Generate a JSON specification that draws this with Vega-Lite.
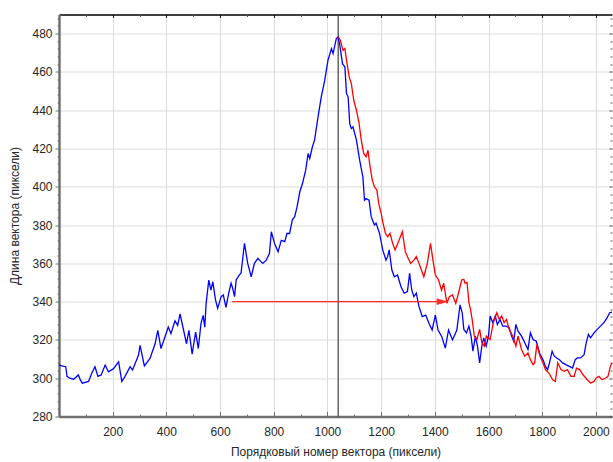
{
  "$schema": "https://vega.github.io/schema/vega-lite/v6.json",
  "autosize": "none",
  "width": 553,
  "height": 402,
  "padding": {"left": 59, "top": 14.5, "right": 1, "bottom": 45.5},
  "background": "white",
  "config": {
    "view": {"stroke": null},
    "axis": {
      "labelFont": "Liberation Sans",
      "labelFontSize": 12,
      "labelColor": "#262626",
      "titleFont": "Liberation Sans",
      "titleFontSize": 12,
      "titleFontWeight": "normal",
      "titleColor": "#262626",
      "gridColor": "#dcdcdc",
      "gridWidth": 1,
      "domainColor": "#707070",
      "tickColor": "#707070",
      "format": "d"
    }
  },
  "datasets": {
    "vline": [{"x": 1040}],
    "blue": [
      {"x":0,"y":307},{"x":10,"y":306.5},{"x":25,"y":306},{"x":30,"y":301},{"x":40,"y":300},{"x":55,"y":299.5},{"x":72,"y":301.7},{"x":80,"y":299},{"x":87,"y":297.4},{"x":110,"y":298.3},{"x":122,"y":302.6},{"x":134,"y":306},{"x":145,"y":301},{"x":157,"y":301.7},{"x":172,"y":306.9},{"x":184,"y":303.4},{"x":203,"y":305},{"x":222,"y":308.6},{"x":234,"y":298.3},{"x":246,"y":301},{"x":265,"y":306},{"x":274,"y":304.3},{"x":296,"y":312},{"x":302,"y":317.2},{"x":318,"y":306.4},{"x":339,"y":310.3},{"x":358,"y":318},{"x":368,"y":325},{"x":380,"y":315.5},{"x":407,"y":326.7},{"x":417,"y":323.3},{"x":432,"y":330},{"x":442,"y":327.6},{"x":451,"y":333.6},{"x":475,"y":318},{"x":484,"y":325},{"x":496,"y":312.6},{"x":509,"y":324.1},{"x":519,"y":315.5},{"x":529,"y":328.7},{"x":537,"y":332.8},{"x":543,"y":326.7},{"x":548,"y":339},{"x":558,"y":351.3},{"x":566,"y":346},{"x":573,"y":350.4},{"x":583,"y":340.9},{"x":591,"y":336.5},{"x":604,"y":342.6},{"x":612,"y":343.5},{"x":622,"y":337},{"x":632,"y":344.3},{"x":641,"y":349.6},{"x":647,"y":347},{"x":654,"y":342.6},{"x":660,"y":351.3},{"x":672,"y":354},{"x":678,"y":354.8},{"x":691,"y":370.4},{"x":703,"y":360},{"x":716,"y":353},{"x":728,"y":360},{"x":741,"y":362.6},{"x":747,"y":361.7},{"x":759,"y":360},{"x":772,"y":361.7},{"x":784,"y":365.2},{"x":791,"y":376.5},{"x":803,"y":370.4},{"x":816,"y":366},{"x":828,"y":372},{"x":841,"y":371.3},{"x":849,"y":375.6},{"x":859,"y":375.6},{"x":869,"y":382.6},{"x":878,"y":384.4},{"x":887,"y":389.6},{"x":897,"y":397.4},{"x":907,"y":401.7},{"x":919,"y":408.7},{"x":928,"y":417.4},{"x":934,"y":414.8},{"x":944,"y":420.9},{"x":952,"y":424.4},{"x":965,"y":436.5},{"x":977,"y":447},{"x":990,"y":455.7},{"x":1002,"y":466.1},{"x":1015,"y":472.2},{"x":1021,"y":469.6},{"x":1033,"y":477.4},{"x":1040,"y":478.3},{"x":1046,"y":474},{"x":1056,"y":464.3},{"x":1065,"y":462.6},{"x":1071,"y":448.7},{"x":1077,"y":447},{"x":1083,"y":433},{"x":1089,"y":430.4},{"x":1095,"y":431.3},{"x":1108,"y":424.4},{"x":1120,"y":413.9},{"x":1132,"y":405.2},{"x":1138,"y":393},{"x":1144,"y":393.9},{"x":1155,"y":393},{"x":1163,"y":384.4},{"x":1175,"y":380},{"x":1181,"y":381},{"x":1194,"y":375.7},{"x":1206,"y":367},{"x":1218,"y":361.7},{"x":1224,"y":363.5},{"x":1230,"y":367},{"x":1240,"y":356.5},{"x":1249,"y":353},{"x":1261,"y":353.9},{"x":1274,"y":347.8},{"x":1286,"y":344.4},{"x":1298,"y":345.3},{"x":1306,"y":354.8},{"x":1314,"y":346.1},{"x":1322,"y":342.6},{"x":1331,"y":344.4},{"x":1341,"y":337.4},{"x":1353,"y":332.2},{"x":1366,"y":333},{"x":1378,"y":328.7},{"x":1390,"y":325.2},{"x":1402,"y":333},{"x":1412,"y":325.2},{"x":1426,"y":321.7},{"x":1439,"y":315.7},{"x":1451,"y":325.2},{"x":1466,"y":320},{"x":1482,"y":325.2},{"x":1494,"y":338.3},{"x":1502,"y":334.2},{"x":1508,"y":325.5},{"x":1518,"y":323.7},{"x":1527,"y":327.2},{"x":1535,"y":322},{"x":1542,"y":314.1},{"x":1551,"y":322},{"x":1559,"y":316.7},{"x":1567,"y":308},{"x":1575,"y":316.7},{"x":1582,"y":321.1},{"x":1591,"y":316.7},{"x":1600,"y":322},{"x":1606,"y":332.5},{"x":1616,"y":329},{"x":1625,"y":332.5},{"x":1633,"y":328.1},{"x":1643,"y":330.7},{"x":1653,"y":327.2},{"x":1665,"y":327.2},{"x":1677,"y":326.4},{"x":1686,"y":322},{"x":1694,"y":319.3},{"x":1702,"y":328.1},{"x":1710,"y":324.6},{"x":1723,"y":322},{"x":1735,"y":318.5},{"x":1747,"y":315},{"x":1756,"y":323.7},{"x":1766,"y":320.2},{"x":1778,"y":319.3},{"x":1790,"y":313.2},{"x":1803,"y":309.7},{"x":1812,"y":306.2},{"x":1820,"y":304.5},{"x":1827,"y":308},{"x":1837,"y":314.1},{"x":1845,"y":311.5},{"x":1854,"y":310.6},{"x":1864,"y":309.7},{"x":1876,"y":308},{"x":1888,"y":307.1},{"x":1901,"y":306.2},{"x":1913,"y":305.3},{"x":1923,"y":309.7},{"x":1931,"y":310.6},{"x":1943,"y":310.6},{"x":1956,"y":312.3},{"x":1964,"y":318.5},{"x":1972,"y":322.9},{"x":1980,"y":321.1},{"x":1993,"y":323.7},{"x":2005,"y":325.5},{"x":2017,"y":327.2},{"x":2030,"y":329},{"x":2042,"y":331.6},{"x":2051,"y":334.2},{"x":2060,"y":334.5}
    ],
    "red": [
      {"x":1040,"y":478.3},{"x":1048,"y":476.5},{"x":1058,"y":471.3},{"x":1065,"y":472.2},{"x":1071,"y":466.1},{"x":1081,"y":457.4},{"x":1089,"y":453.9},{"x":1098,"y":445.2},{"x":1108,"y":440},{"x":1118,"y":433},{"x":1126,"y":424.4},{"x":1135,"y":417.4},{"x":1144,"y":415.7},{"x":1151,"y":419.1},{"x":1157,"y":412.2},{"x":1167,"y":403.5},{"x":1175,"y":400},{"x":1184,"y":398.3},{"x":1191,"y":391.3},{"x":1200,"y":386.1},{"x":1206,"y":381.7},{"x":1216,"y":375.7},{"x":1224,"y":373.9},{"x":1233,"y":375.7},{"x":1243,"y":370.4},{"x":1252,"y":367},{"x":1267,"y":372.2},{"x":1279,"y":376.5},{"x":1290,"y":366.1},{"x":1298,"y":363.5},{"x":1310,"y":360},{"x":1322,"y":361.7},{"x":1331,"y":363.5},{"x":1341,"y":360},{"x":1359,"y":353},{"x":1372,"y":360},{"x":1384,"y":370.4},{"x":1393,"y":361.7},{"x":1402,"y":353.9},{"x":1414,"y":351.3},{"x":1425,"y":346},{"x":1433,"y":349.6},{"x":1445,"y":339.1},{"x":1454,"y":342.6},{"x":1466,"y":343.5},{"x":1478,"y":339.1},{"x":1488,"y":344.4},{"x":1500,"y":351.3},{"x":1508,"y":351.7},{"x":1512,"y":349.6},{"x":1520,"y":350},{"x":1527,"y":339.5},{"x":1533,"y":336},{"x":1539,"y":330.7},{"x":1547,"y":322},{"x":1557,"y":320.2},{"x":1563,"y":323.7},{"x":1567,"y":325.5},{"x":1575,"y":318.5},{"x":1584,"y":316.7},{"x":1592,"y":322},{"x":1606,"y":320.2},{"x":1618,"y":329},{"x":1631,"y":334.2},{"x":1640,"y":330.7},{"x":1649,"y":332.5},{"x":1658,"y":329},{"x":1667,"y":330.7},{"x":1677,"y":325.5},{"x":1690,"y":322},{"x":1702,"y":316.7},{"x":1710,"y":322},{"x":1723,"y":315},{"x":1735,"y":311.5},{"x":1747,"y":313.2},{"x":1756,"y":309.7},{"x":1766,"y":307.1},{"x":1772,"y":308},{"x":1780,"y":317.6},{"x":1792,"y":311.5},{"x":1803,"y":308},{"x":1812,"y":304.5},{"x":1825,"y":302.7},{"x":1839,"y":299.2},{"x":1849,"y":298.3},{"x":1858,"y":308},{"x":1870,"y":304.5},{"x":1882,"y":303.6},{"x":1894,"y":304.5},{"x":1907,"y":301},{"x":1919,"y":301},{"x":1928,"y":305.3},{"x":1940,"y":304.5},{"x":1952,"y":301.8},{"x":1968,"y":299.2},{"x":1980,"y":297.5},{"x":1993,"y":298.3},{"x":2001,"y":300.1},{"x":2011,"y":301},{"x":2023,"y":299.2},{"x":2036,"y":300.1},{"x":2045,"y":301},{"x":2054,"y":306.2},{"x":2060,"y":308}
    ],
    "arrow": [{"x": 645, "x2": 1420, "y": 340}],
    "head": [{"x": 1428, "y": 340}]
  },
  "resolve": {"axis": {"x": "independent", "y": "independent"}},
  "layer": [
    {
      "data": {"name": "vline"},
      "mark": {"type": "rule", "color": "#404040", "strokeWidth": 1.2},
      "encoding": {
        "x": {
          "field": "x", "type": "quantitative",
          "scale": {"domain": [0, 2060], "nice": false, "zero": false},
          "axis": {
            "orient": "bottom",
            "values": [200,400,600,800,1000,1200,1400,1600,1800,2000],
            "format": "d",
            "ticks": false,
            "grid": true,
            "domain": true,
            "domainWidth": 2.5,
            "labelPadding": 10,
            "labelFlush": false,
            "title": "Порядковый номер вектора (пиксели)",
            "titlePadding": 9
          }
        }
      }
    },
    {
      "data": {"name": "blue"},
      "mark": {"type": "line", "color": "#0000ff", "strokeWidth": 1.3},
      "encoding": {
        "x": {
          "field": "x", "type": "quantitative",
          "scale": {"domain": [0, 2060], "nice": false, "zero": false},
          "axis": {
            "orient": "bottom",
            "values": [200,400,600,800,1000,1200,1400,1600,1800,2000],
            "ticks": true, "tickSize": -5, "tickWidth": 1,
            "labels": false, "grid": false, "domain": false, "title": null
          }
        },
        "y": {
          "field": "y", "type": "quantitative",
          "scale": {"domain": [280, 490], "nice": false, "zero": false},
          "axis": {
            "orient": "left",
            "values": [280,300,320,340,360,380,400,420,440,460,480],
            "format": "d",
            "ticks": true, "tickSize": 4, "tickWidth": 1,
            "grid": true, "domain": true, "domainWidth": 2.5,
            "labelPadding": 3,
            "labelFlush": false,
            "title": "Длина вектора (пиксели)",
            "titlePadding": 10
          }
        }
      }
    },
    {
      "data": {"name": "red"},
      "mark": {"type": "line", "color": "#ff0000", "strokeWidth": 1.3},
      "encoding": {
        "x": {
          "field": "x", "type": "quantitative",
          "scale": {"domain": [0, 2060], "nice": false, "zero": false},
          "axis": {
            "orient": "bottom",
            "values": [100,300,500,700,900,1100,1300,1500,1700,1900],
            "ticks": true, "tickSize": -2.5, "tickWidth": 1,
            "labels": false, "grid": false, "domain": false, "title": null
          }
        },
        "y": {
          "field": "y", "type": "quantitative",
          "scale": {"domain": [280, 490], "nice": false, "zero": false},
          "axis": {
            "orient": "left",
            "values": [284,288,292,296,304,308,312,316,324,328,332,336,344,348,352,356,364,368,372,376,384,388,392,396,404,408,412,416,424,428,432,436,444,448,452,456,464,468,472,476,484,488],
            "ticks": true, "tickSize": 2, "tickWidth": 1,
            "labels": false, "grid": false, "domain": false, "title": null
          }
        }
      }
    },
    {
      "data": {"name": "arrow"},
      "mark": {"type": "rule", "color": "#ff2a2a", "strokeWidth": 1.2},
      "encoding": {
        "x": {
          "field": "x", "type": "quantitative",
          "scale": {"domain": [0, 2060], "nice": false, "zero": false},
          "axis": {
            "orient": "top",
            "values": [200,400,600,800,1000,1200,1400,1600,1800,2000],
            "ticks": true, "tickSize": -3, "tickWidth": 1, "tickColor": "#222222",
            "labels": false, "grid": false,
            "domain": true, "domainColor": "#000000", "domainWidth": 1.5,
            "title": null
          }
        },
        "x2": {"field": "x2"},
        "y": {
          "field": "y", "type": "quantitative",
          "scale": {"domain": [280, 490], "nice": false, "zero": false},
          "axis": {
            "orient": "right",
            "values": [280,300,320,340,360,380,400,420,440,460,480],
            "ticks": true, "tickSize": -3, "tickWidth": 1, "tickColor": "#555555",
            "labels": false, "grid": false, "domain": false, "title": null
          }
        }
      }
    },
    {
      "data": {"name": "head"},
      "mark": {"type": "point", "shape": "M-1,-0.6L1,0L-1,0.6Z", "filled": true, "color": "#ff2a2a", "opacity": 1, "size": 130},
      "encoding": {
        "x": {
          "field": "x", "type": "quantitative",
          "scale": {"domain": [0, 2060], "nice": false, "zero": false},
          "axis": {
            "orient": "top",
            "values": [100,300,500,700,900,1100,1300,1500,1700,1900],
            "ticks": true, "tickSize": -2, "tickWidth": 1, "tickColor": "#555555",
            "labels": false, "grid": false, "domain": false, "title": null
          }
        },
        "y": {
          "field": "y", "type": "quantitative",
          "scale": {"domain": [280, 490], "nice": false, "zero": false},
          "axis": {
            "orient": "right",
            "values": [284,288,292,296,304,308,312,316,324,328,332,336,344,348,352,356,364,368,372,376,384,388,392,396,404,408,412,416,424,428,432,436,444,448,452,456,464,468,472,476,484,488],
            "ticks": true, "tickSize": -2, "tickWidth": 1, "tickColor": "#555555",
            "labels": false, "grid": false, "domain": false, "title": null
          }
        }
      }
    }
  ]
}
